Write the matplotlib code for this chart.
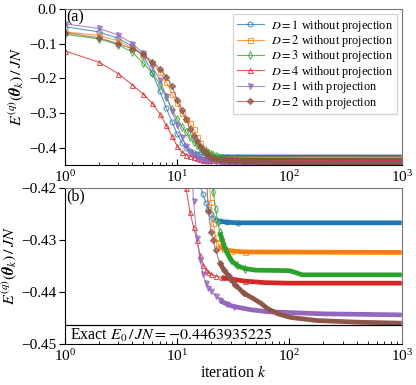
import numpy as np
import matplotlib
matplotlib.use("Agg")
import matplotlib.pyplot as plt

plt.rcParams['font.family'] = ['Liberation Serif', 'DejaVu Serif']
plt.rcParams['mathtext.fontset'] = 'stix'

# ---------------- data ----------------
k_d1 = [1, 2, 3, 4, 5, 6, 7, 8, 9, 10, 11, 12, 13, 14, 15, 16, 17, 18, 19, 20,
        21, 22, 24, 28, 35, 1000]
e_d1 = [-0.051, -0.066, -0.085, -0.107, -0.135, -0.184, -0.237, -0.286, -0.325,
        -0.361, -0.386, -0.402, -0.409, -0.414, -0.417, -0.4195, -0.4212, -0.4228,
        -0.4240, -0.4250, -0.4257, -0.4261, -0.4264, -0.4266, -0.4267, -0.4267]

k_d2 = [1, 2, 3, 4, 5, 6, 7, 8, 9, 10, 11, 12, 13, 14, 15, 16, 17, 18, 19, 20,
        21, 22, 23, 24, 26, 30, 40, 1000]
e_d2 = [-0.066, -0.076, -0.092, -0.112, -0.133, -0.155, -0.181, -0.211, -0.244,
        -0.270, -0.300, -0.318, -0.330, -0.347, -0.368, -0.386, -0.400, -0.410,
        -0.4175, -0.4226, -0.4268, -0.4295, -0.4305, -0.4312, -0.4317, -0.4321,
        -0.4323, -0.4324]

k_d3 = [1, 2, 3, 4, 5, 6, 7, 8, 9, 10, 11, 12, 13, 14, 15, 16, 17, 18, 19, 20,
        21, 22, 23, 24, 25, 27, 30, 34, 40, 50, 100, 115, 130, 1000]
e_d3 = [-0.073, -0.086, -0.103, -0.125, -0.157, -0.184, -0.216, -0.255, -0.289,
        -0.318, -0.340, -0.355, -0.370, -0.383, -0.393, -0.401, -0.406, -0.411,
        -0.415, -0.418, -0.4208, -0.4240, -0.4265, -0.4285, -0.4298, -0.4319,
        -0.4338, -0.4349, -0.4355, -0.4358, -0.4359, -0.4363, -0.4367, -0.4367]

k_d4 = [1, 2, 3, 4, 5, 6, 7, 8, 9, 10, 11, 12, 13, 14, 15, 16, 17, 18, 19, 20,
        22, 25, 30, 40, 60, 100, 1000]
e_d4 = [-0.121, -0.153, -0.187, -0.219, -0.246, -0.272, -0.302, -0.335, -0.367,
        -0.395, -0.413, -0.420, -0.4246, -0.4275, -0.4300, -0.4329, -0.4348,
        -0.4357, -0.4362, -0.4366, -0.4369, -0.4372, -0.4375, -0.4379, -0.4382,
        -0.4383, -0.4383]

k_p1 = [1, 2, 3, 4, 5, 6, 7, 8, 9, 10, 11, 12, 13, 14, 15, 16, 17, 18, 19, 20,
        22, 24, 28, 32, 45, 64, 200, 1000]
e_p1 = [-0.043, -0.056, -0.075, -0.100, -0.128, -0.165, -0.205, -0.250, -0.295,
        -0.335, -0.370, -0.395, -0.412, -0.4225, -0.4297, -0.4338, -0.4366,
        -0.4382, -0.4392, -0.4398, -0.4408, -0.4416, -0.4424, -0.4428, -0.4434,
        -0.4438, -0.4442, -0.4444]

k_p2 = [1, 2, 3, 4, 5, 6, 7, 8, 9, 10, 11, 12, 13, 14, 15, 16, 17, 18, 19, 20,
        21, 22, 24, 26, 29, 33, 39, 48, 56, 64, 79, 103, 178, 400, 1000]
e_p2 = [-0.068, -0.083, -0.100, -0.115, -0.131, -0.152, -0.172, -0.195, -0.222,
        -0.262, -0.290, -0.318, -0.345, -0.365, -0.382, -0.396, -0.408, -0.416,
        -0.4245, -0.4285, -0.4300, -0.4320, -0.4344, -0.4357, -0.4370, -0.4386,
        -0.4402, -0.4413, -0.4422, -0.4432, -0.4442, -0.4449, -0.4455, -0.4458,
        -0.4460]

labels = [r"$D=1$ without projection", r"$D=2$ without projection",
          r"$D=3$ without projection", r"$D=4$ without projection",
          r"$D=1$ with projection", r"$D=2$ with projection"]
exact_e0 = -0.4463935225

series = [(k_d1, e_d1), (k_d2, e_d2), (k_d3, e_d3), (k_d4, e_d4),
          (k_p1, e_p1), (k_p2, e_p2)]
colors = ['#1f77b4', '#ff7f0e', '#2ca02c', '#d62728', '#9467bd', '#8c564b']
markers = ['o', 's', 'd', '^', 'v', 'D']
filled = [False, False, False, False, True, True]
band_start = 24

fig = plt.figure(figsize=(4.16, 3.85), dpi=100)
ax_a = fig.add_axes([0.156, 0.5714, 0.8096, 0.4052])
ax_b = fig.add_axes([0.156, 0.1065, 0.8096, 0.4052])

legend_handles = []
for ax in (ax_a, ax_b):
    for (kk, ee), c, m, f, lab in zip(series, colors, markers, filled, labels):
        kk = np.asarray(kk)
        ee = np.asarray(ee)
        h, = ax.plot(kk, ee, color=c, lw=0.8, alpha=0.75, marker=m,
                     ms=3.6 if m != 'D' else 3.2,
                     mfc=c if f else 'none', mec=c, mew=0.8, label=lab,
                     markevery=list(kk <= 40))
        if ax is ax_a:
            legend_handles.append(h)
        sel = kk >= band_start
        ax.plot(kk[sel], ee[sel], color=c, lw=3.4, solid_capstyle='butt')
    ax.set_xscale('log')
    ax.set_xlim(1, 1000)
    ax.tick_params(axis='x', which='both', direction='in', labelsize=11)
    ax.tick_params(axis='x', which='major', length=4, pad=3)
    ax.tick_params(axis='x', which='minor', length=2.5)
    ax.tick_params(axis='y', direction='out', labelsize=11, length=4, pad=2)
    for s in ('top', 'right'):
        ax.spines[s].set_color('#777777')
    ax.set_ylabel(r"$E^{(q)}(\boldsymbol{\theta}_k)\,/\,JN$", fontsize=11.5, labelpad=2)

ax_a.set_ylim(-0.45, 0.0)
ax_a.set_yticks([0.0, -0.1, -0.2, -0.3, -0.4])
ax_a.set_yticklabels(["0.0", "\u22120.1", "\u22120.2", "\u22120.3", "\u22120.4"])
ax_b.set_ylim(-0.45, -0.42)
ax_b.set_yticks([-0.42, -0.43, -0.44, -0.45])
ax_b.set_yticklabels(["\u22120.42", "\u22120.43", "\u22120.44", "\u22120.45"])

ax_b.axhline(exact_e0, color='black', lw=0.9)
ax_b.text(1.1, exact_e0 - 0.0004, r"Exact $E_0\,/\,JN = -0.4463935225$",
          fontsize=11.5, va='top', ha='left')

ax_a.text(0.005, 0.995, "(a)", transform=ax_a.transAxes, fontsize=11.5, va='top', ha='left')
ax_b.text(0.005, 0.995, "(b)", transform=ax_b.transAxes, fontsize=11.5, va='top', ha='left')

ax_a.legend(legend_handles, labels, loc='upper right',
            fontsize=8.8, frameon=True, borderaxespad=0.4, handlelength=2.2,
            labelspacing=-0.05, borderpad=0.3, fancybox=False, edgecolor='#cccccc',
            handletextpad=0.6)

ax_b.set_xlabel(r"iteration $k$", fontsize=11.5, labelpad=1)

fig.savefig("out.png", dpi=100)
